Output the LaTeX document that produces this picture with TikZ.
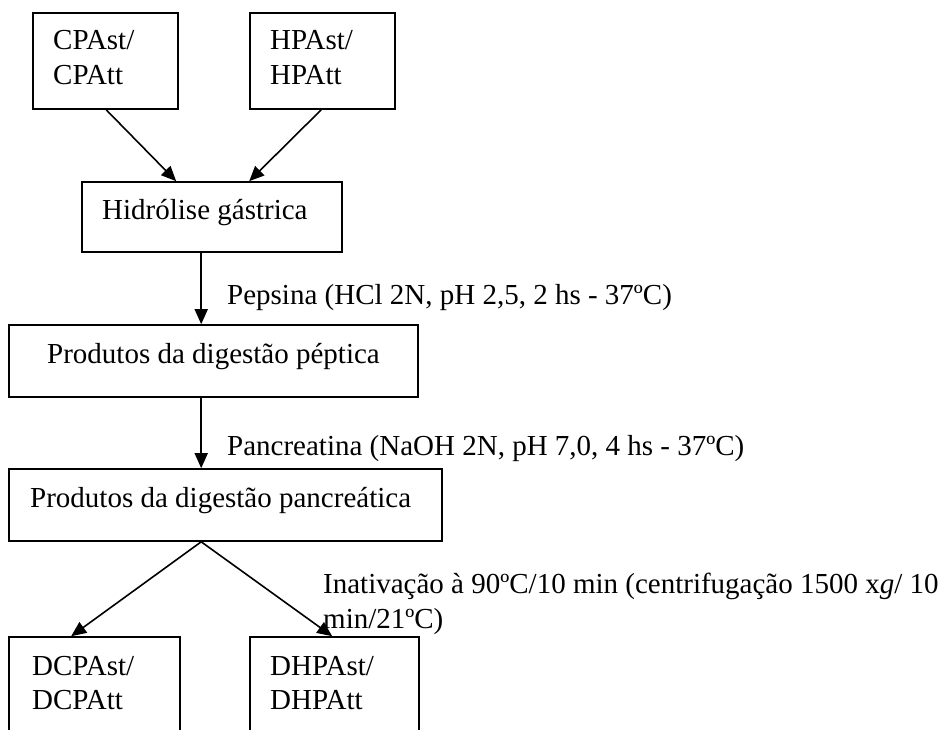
\documentclass[tikz,border=0pt]{standalone}
\usepackage{fontspec}
\setmainfont{Liberation Serif}
\usetikzlibrary{arrows.meta,calc}
\begin{document}
\begin{tikzpicture}[x=1pt,y=-1pt,
  box/.style={draw, line width=1.6pt, inner sep=0pt, rectangle},
  txt/.style={anchor=base west, inner sep=0pt, font=\fontsize{29}{34.5}\selectfont},
  arr/.style={line width=1.6pt, -{Triangle[length=15pt,width=13pt]}}]
\useasboundingbox (0,0) rectangle (948,730);
\clip (0,0) rectangle (948,730);
% boxes
\node[box, minimum width=145pt, minimum height=96pt] (cpa) at (105.5,61) {};
\node[box, minimum width=145pt, minimum height=96pt] (hpa) at (322.5,61) {};
\node[box, minimum width=260pt, minimum height=70pt] (hid) at (212,217) {};
\node[box, minimum width=409pt, minimum height=72pt] (pep) at (213.5,361) {};
\node[box, minimum width=433pt, minimum height=72pt] (pan) at (225.5,505) {};
\node[box, minimum width=171pt, minimum height=130pt] (dcp) at (94.5,702) {};
\node[box, minimum width=169pt, minimum height=130pt] (dhp) at (334.5,702) {};
% box texts
\node[txt] (t1) at (53,50) {CPAst/};
\node[txt] (t2) at (53,85) {CPAtt};
\node[txt] (t3) at (270,50) {HPAst/};
\node[txt] (t4) at (270,85) {HPAtt};
\node[txt] (t5) at (102,220) {Hidrólise gástrica};
\node[txt] (t6) at (47,363) {Produtos da digestão péptica};
\node[txt] (t7) at (30,507) {Produtos da digestão pancreática};
\node[txt] (t8) at (32,675) {DCPAst/};
\node[txt] (t9) at (32,709) {DCPAtt};
\node[txt] (t10) at (270,675) {DHPAst/};
\node[txt] (t11) at (270,709) {DHPAtt};
% labels
\node[txt] (l1) at (227,305) {Pepsina (HCl 2N, pH 2,5, 2 hs - 37ºC)};
\node[txt] (l2) at (227,455) {Pancreatina (NaOH 2N, pH 7,0, 4 hs - 37ºC)};
\node[txt] (l3) at (323,593) {Inativação à 90ºC/10 min (centrifugação 1500 x\textit{g}/ 10};
\node[txt] (l4) at (323,628) {min/21ºC)};
% connectors
\draw[arr] ($(cpa.south west)+(74,0)$) -- ($(hid.north west)+(95,0)$);
\draw[arr] ($(hpa.south west)+(72,0)$) -- ($(hid.north west)+(168,0)$);
\coordinate (v1) at ($(hid.south west)+(120,0)$);
\draw[arr] (v1) -- (v1 |- pep.north);
\coordinate (v2) at ($(pep.south west)+(193,0)$);
\draw[arr] (v2) -- (v2 |- pan.north);
\coordinate (v3) at ($(pan.south west)+(193,0)$);
\draw[arr] (v3) -- ($(dcp.north west)+(63,0)$);
\draw[arr] (v3) -- ($(dhp.north west)+(83,0)$);
\end{tikzpicture}
\end{document}
